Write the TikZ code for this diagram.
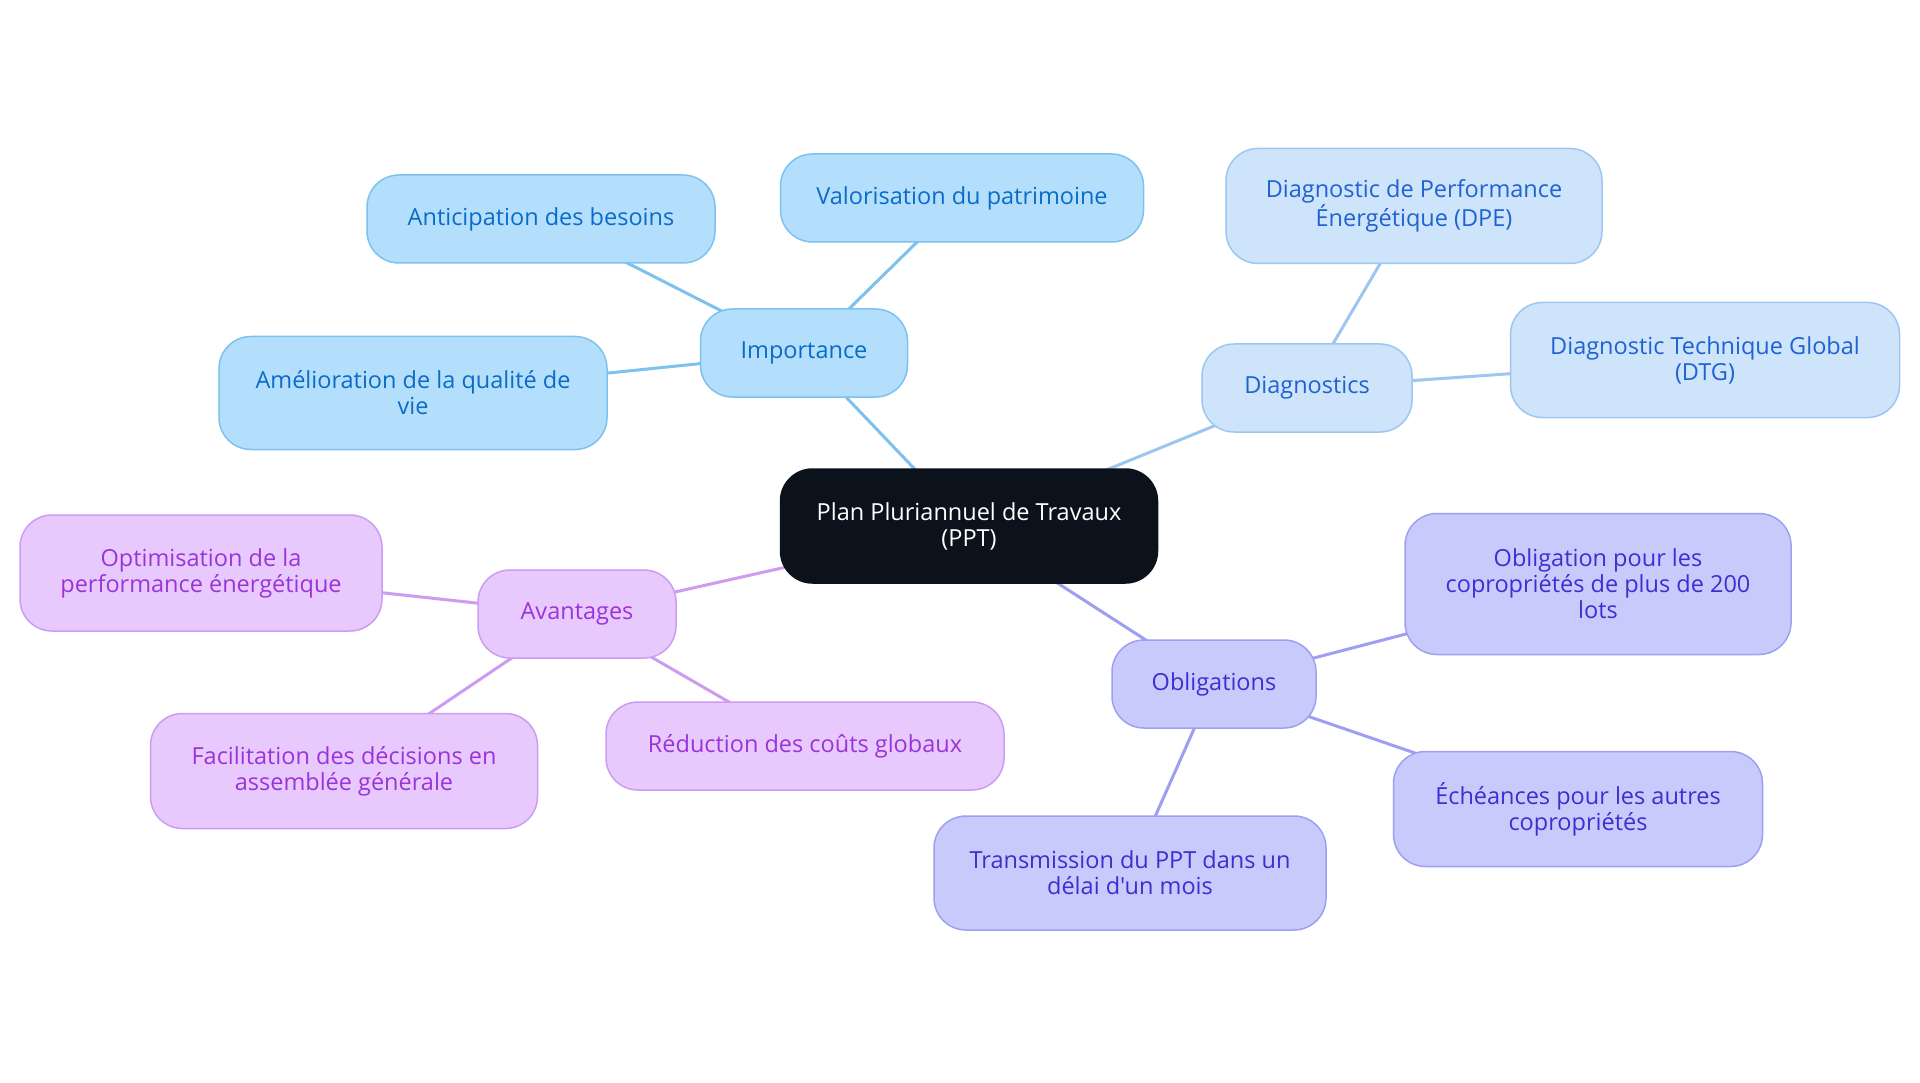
\documentclass[tikz,border=0pt]{standalone}
\usepackage{fontspec}
\setmainfont{Open Sans}[Ligatures=TeXOff]
\usetikzlibrary{backgrounds}
\definecolor{cfill}{HTML}{0C121C}
\definecolor{ifill}{HTML}{B3DFFD}\definecolor{idraw}{HTML}{7DC1EF}\definecolor{itext}{HTML}{0B6BC7}
\definecolor{dfill}{HTML}{CDE4FB}\definecolor{ddraw}{HTML}{9DC6F1}\definecolor{dtext}{HTML}{1F62D1}
\definecolor{afill}{HTML}{E8C9FD}\definecolor{adraw}{HTML}{CD9CF0}\definecolor{atext}{HTML}{9A34DA}
\definecolor{ofill}{HTML}{C9CAFC}\definecolor{odraw}{HTML}{9E9FF0}\definecolor{otext}{HTML}{3B2FD1}
\tikzset{
  box/.style={rounded corners=32pt, line width=1.5pt, align=center, inner sep=0pt,
    font=\fontsize{23.5}{26}\selectfont},
  central/.style={box, fill=cfill, draw=cfill, text=white},
  imp/.style={box, fill=ifill, draw=idraw, text=itext},
  dia/.style={box, fill=dfill, draw=ddraw, text=dtext},
  ava/.style={box, fill=afill, draw=adraw, text=atext},
  obl/.style={box, fill=ofill, draw=odraw, text=otext},
  link/.style={line width=3pt},
}
\begin{document}
\begin{tikzpicture}[x=1pt,y=-1pt]
\useasboundingbox (0,0) rectangle (1920,1083);
\node[central, minimum width=377pt, minimum height=114pt] (c) at (969,526) {Plan Pluriannuel de Travaux\\(PPT)};
\node[imp, minimum width=207pt, minimum height=88pt] (imp) at (804,353) {Importance};
\node[imp, minimum width=348pt, minimum height=88pt] (ant) at (541,219) {Anticipation des besoins};
\node[imp, minimum width=363pt, minimum height=88pt] (val) at (962,198) {Valorisation du patrimoine};
\node[imp, minimum width=388pt, minimum height=113pt] (ame) at (413,393) {Amélioration de la qualité de\\vie};
\node[dia, minimum width=210pt, minimum height=88pt] (dia) at (1307,388) {Diagnostics};
\node[dia, minimum width=376pt, minimum height=115pt] (dpe) at (1414,206) {Diagnostic de Performance\\Énergétique (DPE)};
\node[dia, minimum width=389pt, minimum height=115pt] (dtg) at (1705,360) {Diagnostic Technique Global\\(DTG)};
\node[ava, minimum width=198pt, minimum height=88pt] (ava) at (577,614) {Avantages};
\node[ava, minimum width=362pt, minimum height=116pt] (opt) at (201,573) {Optimisation de la\\performance énergétique};
\node[ava, minimum width=387pt, minimum height=115pt] (fac) at (344,771) {Facilitation des décisions en\\assemblée générale};
\node[ava, minimum width=398pt, minimum height=88pt] (red) at (805,746) {Réduction des coûts globaux};
\node[obl, minimum width=204pt, minimum height=88pt] (obl) at (1214,684) {Obligations};
\node[obl, minimum width=386pt, minimum height=141pt] (o200) at (1598,584) {Obligation pour les\\copropriétés de plus de 200\\lots};
\node[obl, minimum width=369pt, minimum height=115pt] (ech) at (1578,809) {Échéances pour les autres\\copropriétés};
\node[obl, minimum width=392pt, minimum height=114pt] (tra) at (1130,873) {Transmission du PPT dans un\\délai d'un mois};
\begin{pgfonlayer}{background}
\fill[white] (0,0) rectangle (1920,1083);
\draw[link, idraw] (c.center) -- (imp.center);
\draw[link, idraw] (imp.center) -- (ant.center);
\draw[link, idraw] (imp.center) -- (val.center);
\draw[link, idraw] (imp.center) -- (ame.center);
\draw[link, ddraw] (c.center) -- (dia.center);
\draw[link, ddraw] (dia.center) -- (dpe.center);
\draw[link, ddraw] (dia.center) -- (dtg.center);
\draw[link, adraw] (c.center) -- (ava.center);
\draw[link, adraw] (ava.center) -- (opt.center);
\draw[link, adraw] (ava.center) -- (fac.center);
\draw[link, adraw] (ava.center) -- (red.center);
\draw[link, odraw] (c.center) -- (obl.center);
\draw[link, odraw] (obl.center) -- (o200.center);
\draw[link, odraw] (obl.center) -- (ech.center);
\draw[link, odraw] (obl.center) -- (tra.center);
\end{pgfonlayer}
\end{tikzpicture}
\end{document}
